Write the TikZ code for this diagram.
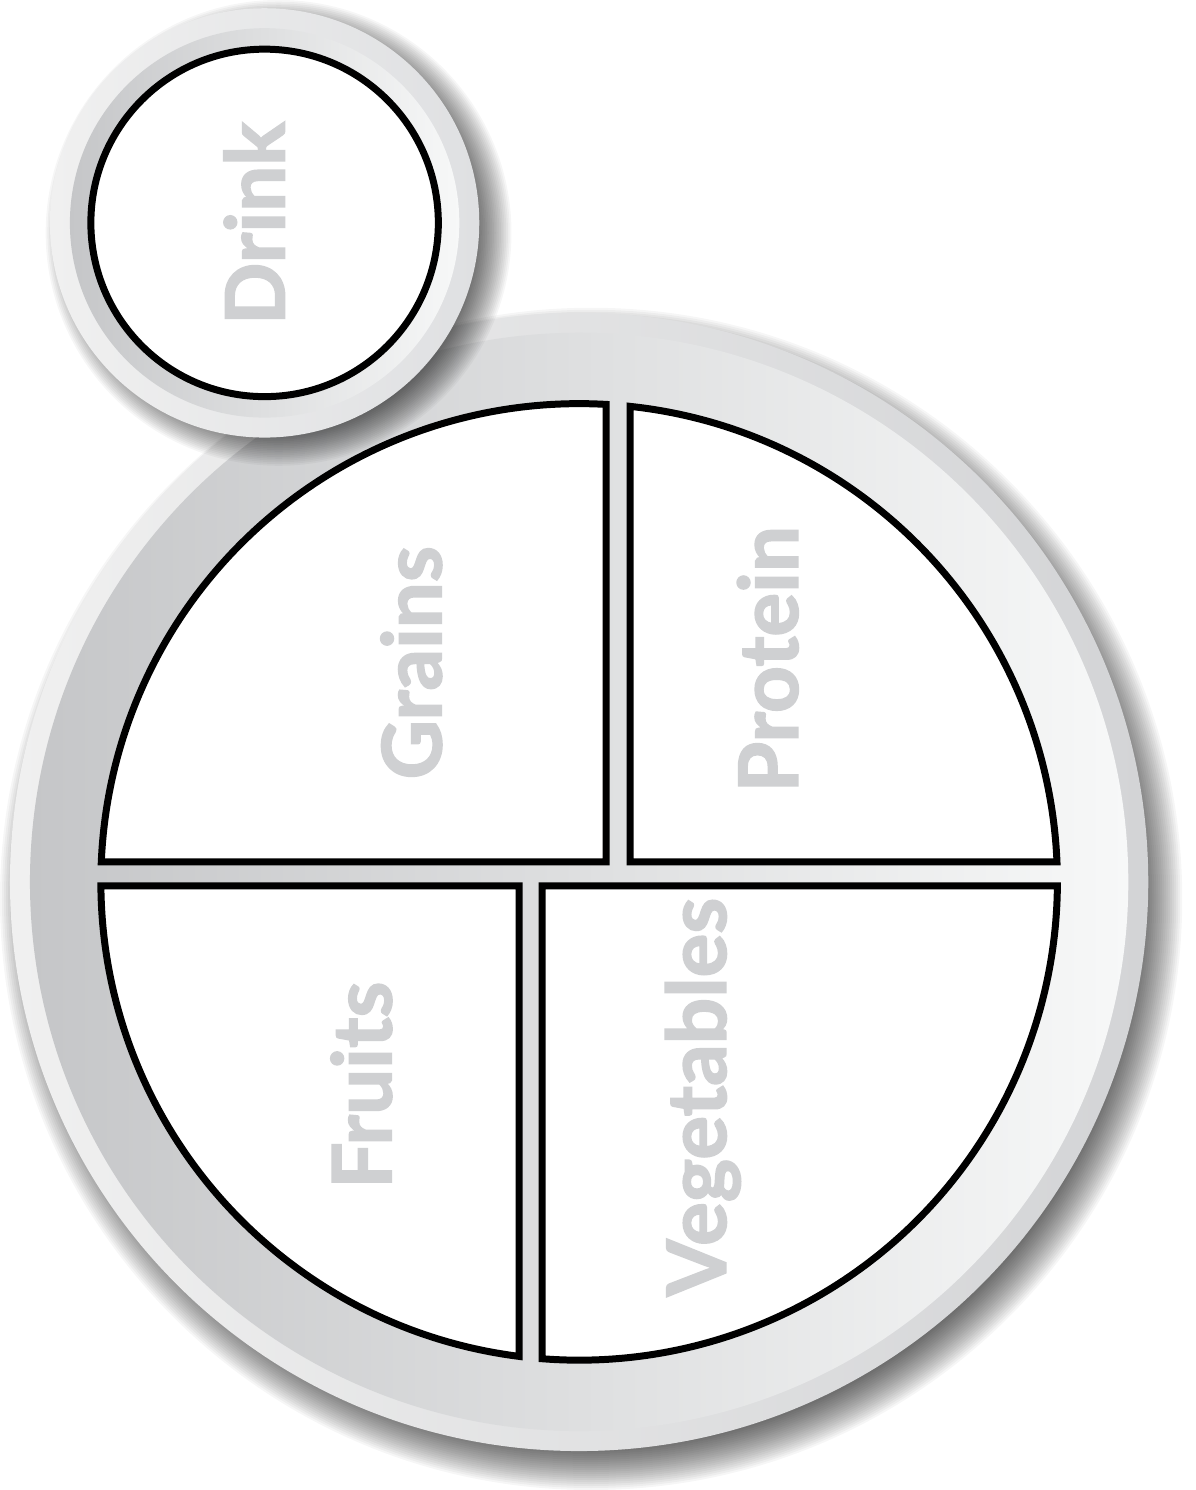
\documentclass[tikz,border=0pt]{standalone}
\usepackage{fontspec}
\newfontfamily\platefont{Lato}[BoldFeatures={FakeBold=2}]
\usetikzlibrary{calc}
\definecolor{labelgrey}{RGB}{207,208,210}
\definecolor{rimlight}{RGB}{240,240,240}
\definecolor{rimdark}{RGB}{211,212,214}
\definecolor{cuprim}{RGB}{223,224,226}
\definecolor{bodydark}{RGB}{197,198,200}
\definecolor{bodylight}{RGB}{247,248,248}

\begin{document}
\begin{tikzpicture}[x=1pt, y=1pt,
  section/.style={draw=black, line width=7pt, fill=white},
  foodlabel/.style={rotate=90, anchor=base, text=labelgrey, inner sep=0pt,
    font=\platefont\bfseries\fontsize{82}{84}\selectfont},
  shadowring/.style={fill=black, opacity=0.036},
]
  \fill[white] (0,0) rectangle (1195,1490);
  \coordinate (plate) at (578,608);
  \coordinate (cup) at (263,1268);

  % plate with its shadow
  \foreach \k in {0,...,23}
    \fill[shadowring] ($(plate)+(12,-17)$) circle ({546+2*\k});
  \shade[left color=rimlight, right color=rimdark] (plate) circle (570);
  \shade[left color=bodydark, right color=bodylight] (plate) circle (550);

  % the four sections
  \draw[section] ($(plate)+(86.77:479)$) arc[start angle=86.77, end angle=177.61, radius=479] -- (605,628) -- cycle;
  \draw[section] ($(plate)+(2.39:479)$) arc[start angle=2.39, end angle=83.89, radius=479] -- (629,628) -- cycle;
  \draw[section] ($(plate)+(180.48:479)$) arc[start angle=180.48, end angle=262.80, radius=479] -- (518,604) -- cycle;
  \draw[section] ($(plate)+(265.57:479)$) arc[start angle=265.57, end angle=359.52, radius=479] -- (541,604) -- cycle;

  \node[foodlabel] (grains) at (440,827.5) {Grains};
  \node[foodlabel] (protein) at (797,831) {Protein};
  \node[foodlabel] (fruits) at (390,404.5) {Fruits};
  \node[foodlabel] (vegetables) at (725,392.5) {Vegetables};

  % cup
  \foreach \k in {0,...,19}
    \fill[shadowring] ($(cup)+(14,-10)$) circle ({200+1.75*\k});
  \shade[left color=rimlight, right color=cuprim] (cup) circle (215);
  \shade[left color=bodydark, right color=bodylight] (cup) circle (195);
  \draw[section] (cup) circle (174);
  \node[foodlabel] (drink) at (283,1267.5) {Drink};
\end{tikzpicture}
\end{document}
